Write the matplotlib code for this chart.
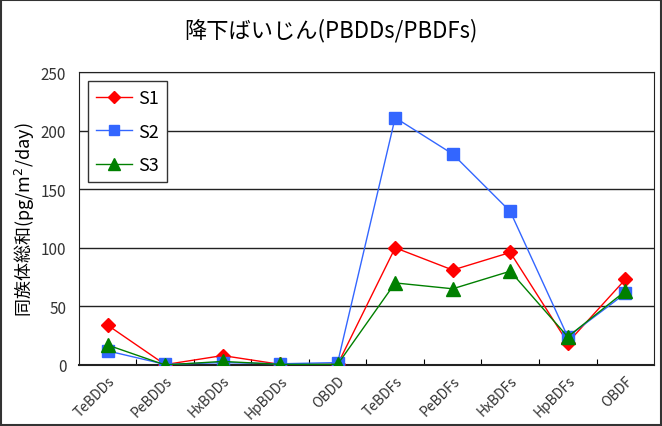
import matplotlib.pyplot as plt
from matplotlib.patches import Rectangle

plt.rcParams['font.family'] = ['Noto Sans CJK JP', 'DejaVu Sans']

categories = ['TeBDDs', 'PeBDDs', 'HxBDDs', 'HpBDDs', 'OBDD',
              'TeBDFs', 'PeBDFs', 'HxBDFs', 'HpBDFs', 'OBDF']
s1 = [34, 0.3, 8, 0.5, 0.5, 100, 81, 96, 19, 73]
s2 = [12, 0.5, 2, 1, 2, 211, 180, 131, 24, 61]
s3 = [17, 0, 3, 0.5, 0.5, 70, 65, 80, 24, 63]

fig = plt.figure(figsize=(6.62, 4.27), dpi=100)
ax = fig.add_axes([0.119, 0.143, 0.869, 0.686])

x = list(range(len(categories)))
ax.plot(x, s1, color='#ff0000', lw=1, marker='D', ms=7.5, label='S1', zorder=3)
ax.plot(x, s2, color='#3366ff', lw=1, marker='s', ms=9, label='S2', zorder=4)
ax.plot(x, s3, color='#008000', lw=1, marker='^', ms=9.5, label='S3', zorder=5)

ax.set_xlim(-0.5, len(categories) - 0.5)
ax.set_ylim(0, 250)
ax.set_yticks([0, 50, 100, 150, 200, 250])
ax.yaxis.grid(True, color='#222222', lw=1)
ax.set_axisbelow(True)
ax.tick_params(axis='y', length=0, labelsize=11, labelcolor='#333333', pad=9)

ax.set_xticks([i + 0.5 for i in x[:-1]])
ax.set_xticklabels([])
ax.set_xticks(x, minor=True)
ax.set_xticklabels(categories, minor=True, rotation=45, ha='right',
                   rotation_mode='anchor', fontsize=10, color='#333333')
ax.tick_params(axis='x', which='major', direction='in', length=4)
ax.tick_params(axis='x', which='minor', length=0, pad=6)
for s in ax.spines.values():
    s.set_color('#222222')
ax.spines['bottom'].set_linewidth(1.5)

ax.set_ylabel('同族体総和(pg/m$^2$/day)', fontsize=13, labelpad=3)
fig.suptitle('降下ばいじん(PBDDs/PBDFs)', fontsize=16, y=0.955)

leg = ax.legend(loc='upper left', bbox_to_anchor=(0.016, 0.969), fontsize=13,
                fancybox=False, framealpha=1, edgecolor='#333333',
                handlelength=2.0, handletextpad=0.3, borderpad=0.45,
                labelspacing=0.85, markerscale=0.85, borderaxespad=0)
leg.get_frame().set_linewidth(1)

fig.patches.append(Rectangle((0.002, 0.003), 0.996, 0.994, transform=fig.transFigure,
                             fill=False, edgecolor='#333333', lw=1.5))

plt.savefig('out.png', dpi=100)
